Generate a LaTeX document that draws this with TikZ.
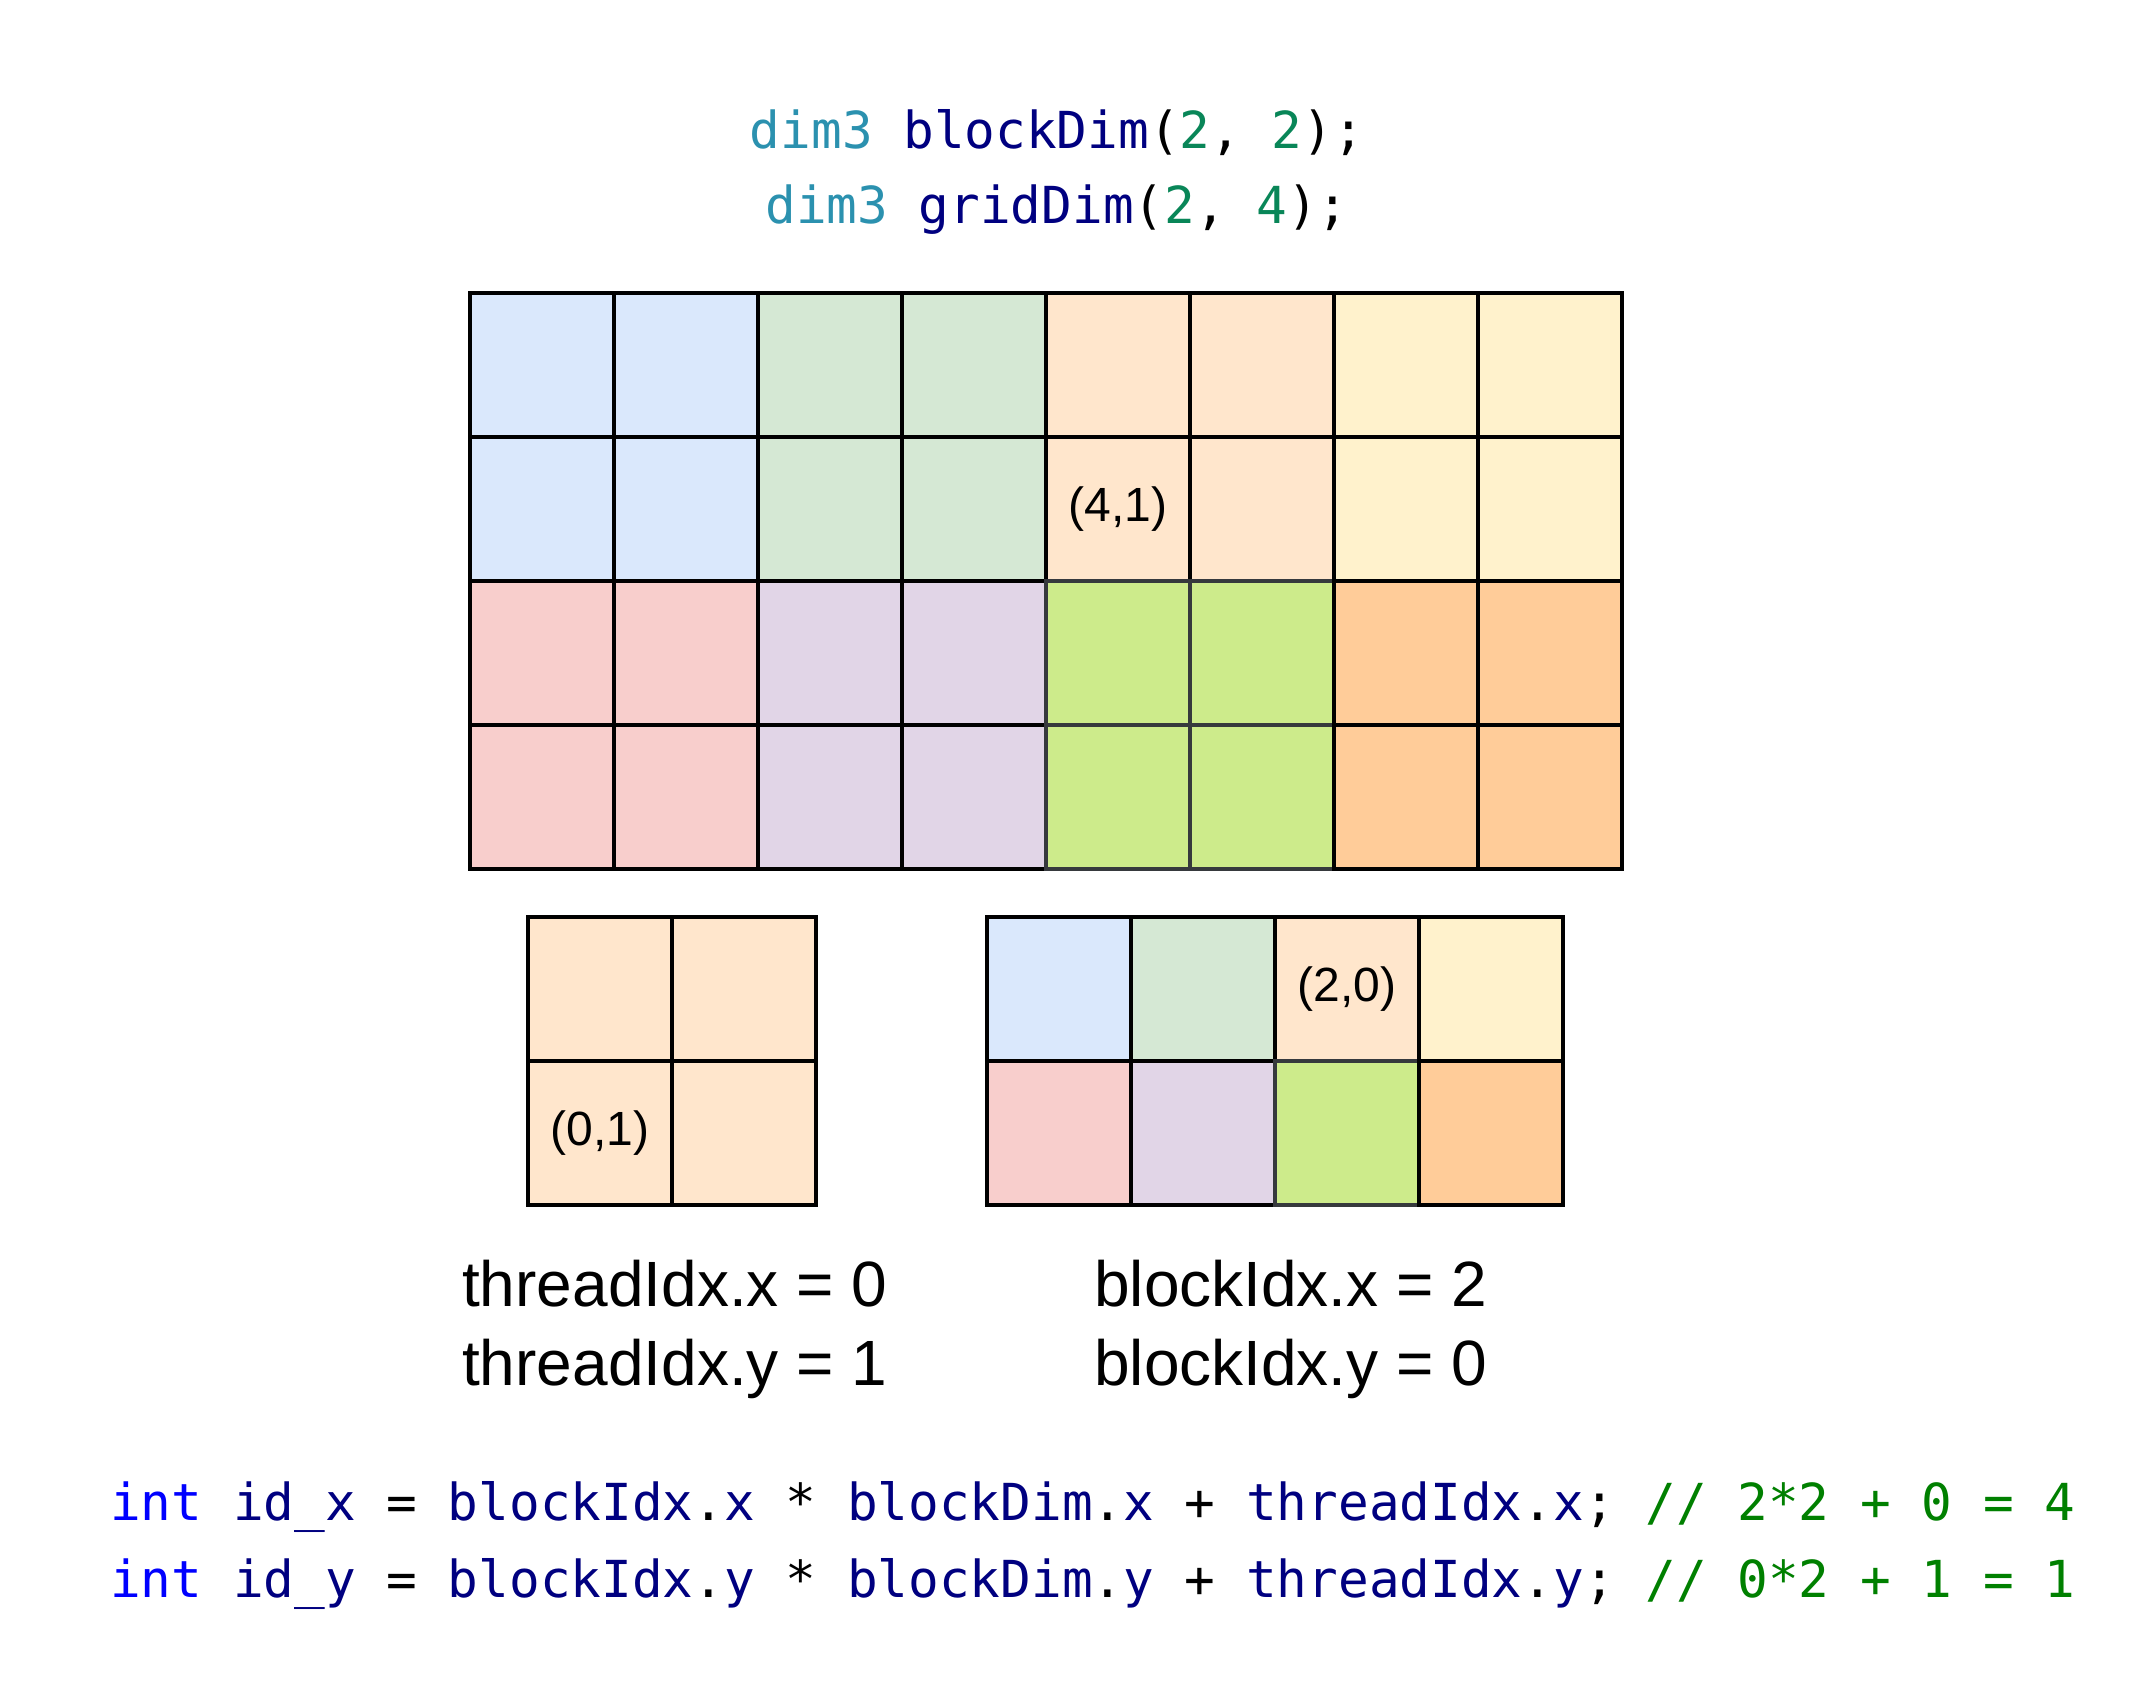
\documentclass[tikz,border=0pt]{standalone}
\usepackage{fontspec}
\setmainfont{Liberation Sans}
\newfontfamily\codefont{DejaVu Sans Mono}
\definecolor{blk0}{HTML}{DAE8FC}
\definecolor{blk1}{HTML}{D5E8D4}
\definecolor{blk2}{HTML}{FFE6CC}
\definecolor{blk3}{HTML}{FFF2CC}
\definecolor{blk4}{HTML}{F8CECC}
\definecolor{blk5}{HTML}{E1D5E7}
\definecolor{blk6}{HTML}{CDEB8B}
\definecolor{blk7}{HTML}{FFCC99}
\colorlet{stk0}{black}
\colorlet{stk1}{black}
\colorlet{stk2}{black}
\colorlet{stk3}{black}
\colorlet{stk4}{black}
\colorlet{stk5}{black}
\definecolor{stk6}{HTML}{36393D}
\colorlet{stk7}{black}
\definecolor{typec}{HTML}{2B91AF}
\definecolor{varc}{HTML}{000080}
\definecolor{numc}{HTML}{098658}
\definecolor{kwc}{HTML}{0000FF}
\definecolor{comc}{HTML}{008000}
\begin{document}
\begin{tikzpicture}[x=1pt,y=-1pt,
  cell/.style={draw=black, line width=3.5pt, minimum size=144pt, inner sep=0pt, outer sep=0pt},
  cellnum/.style={font=\fontsize{48}{56}\selectfont, text=black, inner sep=0pt},
  code/.style={font=\codefont\fontsize{51}{60}\selectfont, inner sep=0pt},
  idx/.style={font=\fontsize{64}{76}\selectfont, text=black, inner sep=0pt, anchor=base west}]
\useasboundingbox[fill=white] (0,0) rectangle (2156,1700);
% top code
\node[code, anchor=base] (c1) at (1057,148) {\textcolor{typec}{dim3} \textcolor{varc}{blockDim}(\textcolor{numc}{2}, \textcolor{numc}{2});};
\node[code, anchor=base] (c2) at (1057,223) {\textcolor{typec}{dim3} \textcolor{varc}{gridDim}(\textcolor{numc}{2}, \textcolor{numc}{4});};
% main grid
\foreach \r in {0,...,3}{
  \foreach \c in {0,...,7}{
    \pgfmathtruncatemacro\bi{floor(\c/2)+4*floor(\r/2)}
    \node[cell, fill=blk\bi, draw=stk\bi] (g-\c-\r) at ({542+144*\c},{365+144*\r}) {};
  }
}
% thread block
\foreach \r in {0,1}{
  \foreach \c in {0,1}{
    \node[cell, fill=blk2] (t-\c-\r) at ({600+144*\c},{989+144*\r}) {};
  }
}
% block grid
\foreach \r in {0,1}{
  \foreach \c in {0,...,3}{
    \pgfmathtruncatemacro\bi{\c+4*\r}
    \node[cell, fill=blk\bi, draw=stk\bi] (b-\c-\r) at ({1059+144*\c},{989+144*\r}) {};
  }
}
\node[cellnum] (l41) at (g-4-1) {(4,1)};
\node[cellnum] (l01) at (t-0-1) {(0,1)};
\node[cellnum] (l20) at (b-2-0) {(2,0)};
% index labels
\node[idx] (tx) at (462,1306) {threadIdx.x = 0};
\node[idx] (ty) at (462,1385) {threadIdx.y = 1};
\node[idx] (bx) at (1094,1306) {blockIdx.x = 2};
\node[idx] (by) at (1094,1385) {blockIdx.y = 0};
% bottom code
\node[code, anchor=base west] (c3) at (110,1520) {\textcolor{kwc}{int} \textcolor{varc}{id\_x} = \textcolor{varc}{blockIdx}.\textcolor{varc}{x} * \textcolor{varc}{blockDim}.\textcolor{varc}{x} + \textcolor{varc}{threadIdx}.\textcolor{varc}{x}; \textcolor{comc}{// 2*2 + 0 = 4}};
\node[code, anchor=base west] (c4) at (110,1597) {\textcolor{kwc}{int} \textcolor{varc}{id\_y} = \textcolor{varc}{blockIdx}.\textcolor{varc}{y} * \textcolor{varc}{blockDim}.\textcolor{varc}{y} + \textcolor{varc}{threadIdx}.\textcolor{varc}{y}; \textcolor{comc}{// 0*2 + 1 = 1}};
\end{tikzpicture}
\end{document}
